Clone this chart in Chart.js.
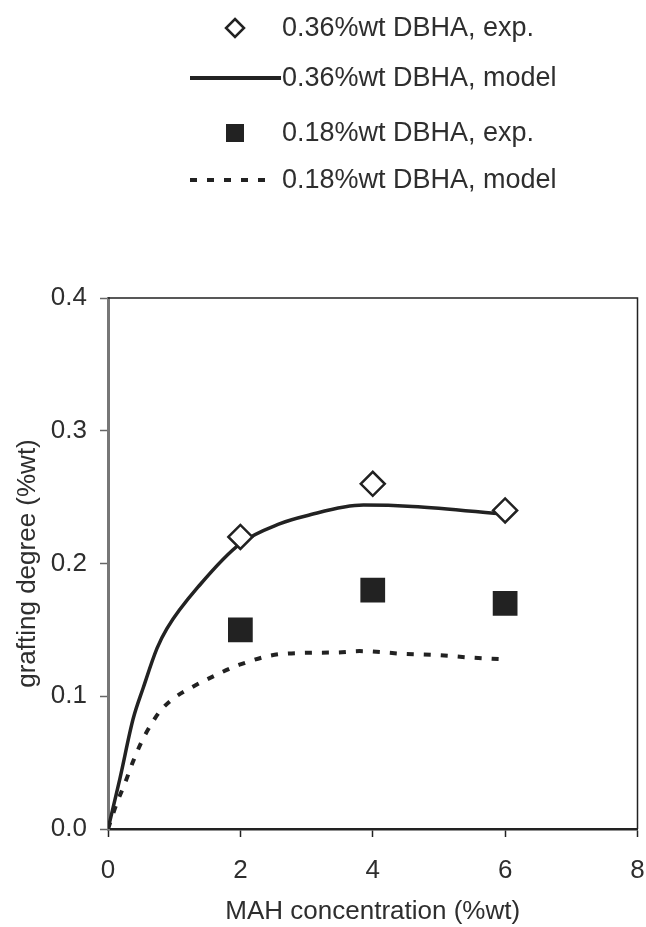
<!DOCTYPE html>
<html>
<head>
<meta charset="utf-8">
<script src="https://cdn.jsdelivr.net/npm/chart.js@4"></script>
<style>
  body { margin: 0; background: #fff; overflow: hidden; }
  canvas { display: block; }
</style>
</head>
<body>
<canvas id="myChart" width="655" height="927"></canvas>
<script>
const expX = [2, 4, 6]
const exp036 = [0.22, 0.26, 0.24]
const exp018 = [0.15, 0.18, 0.17]

const model036X = [0, 0.18, 0.38, 0.53, 0.74, 0.89, 1.39, 2.0, 2.6, 3.0, 3.86, 4.6, 6.03]
const model036Y = [0, 0.038, 0.083, 0.106, 0.136, 0.151, 0.184, 0.215, 0.230, 0.236, 0.244, 0.243, 0.237]

const model018X = [0, 0.13, 0.26, 0.38, 0.51, 0.63, 0.79, 0.98, 1.24, 1.59, 2.0, 2.65, 3.46, 3.8, 4.46, 4.98, 5.52, 5.93]
const model018Y = [0, 0.019, 0.035, 0.051, 0.066, 0.077, 0.089, 0.098, 0.106, 0.115, 0.124, 0.132, 0.133, 0.134, 0.132, 0.131, 0.129, 0.128]

const xTicks = [0, 2, 4, 6, 8]
const yTicks = [0.0, 0.1, 0.2, 0.3, 0.4]

const legendLabels = ['0.36%wt DBHA, exp.', '0.36%wt DBHA, model', '0.18%wt DBHA, exp.', '0.18%wt DBHA, model']

const ink = '#222'
const textInk = '#2e2e2e'
const fontFamily = '"Liberation Sans", Arial, sans-serif'

function pts(xs, ys) {
  return xs.map((x, i) => ({x: x, y: ys[i]}))
}

// legend + top/right frame
const extras = {
  id: 'extras',
  afterDraw(chart) {
    const ctx = chart.ctx
    const a = chart.chartArea
    ctx.save()
    ctx.strokeStyle = ink
    ctx.lineWidth = 1.5
    ctx.beginPath()
    ctx.moveTo(a.left, a.top)
    ctx.lineTo(a.right, a.top)
    ctx.lineTo(a.right, a.bottom)
    ctx.stroke()

    const rows = [28, 78, 133, 180]
    const ds = chart.data.datasets
    ctx.font = '27px ' + fontFamily
    ctx.fillStyle = textInk
    ctx.textBaseline = 'middle'
    legendLabels.forEach((t, i) => {
      ctx.fillText(t, 282, rows[i] + 1)
    })
    // markers
    ctx.fillStyle = '#fff'
    ctx.strokeStyle = ink
    ctx.lineWidth = 2.5
    ctx.beginPath()
    ctx.moveTo(235, rows[0] - 9); ctx.lineTo(244, rows[0]); ctx.lineTo(235, rows[0] + 9); ctx.lineTo(226, rows[0]); ctx.closePath()
    ctx.fill(); ctx.stroke()
    ctx.fillStyle = ink
    ctx.fillRect(226, rows[2] - 9, 18, 18)
    ctx.lineWidth = 4
    ctx.beginPath()
    ctx.moveTo(190, rows[1]); ctx.lineTo(281, rows[1]); ctx.stroke()
    ctx.setLineDash(ds[3].borderDash)
    ctx.beginPath()
    ctx.moveTo(190, rows[3]); ctx.lineTo(268, rows[3]); ctx.stroke()
    ctx.restore()
  }
}

new Chart(document.getElementById('myChart'), {
  type: 'scatter',
  data: {
    datasets: [{
      label: legendLabels[0],
      data: pts(expX, exp036),
      pointStyle: 'rectRot',
      pointRadius: 12,
      pointBorderWidth: 2.5,
      pointBackgroundColor: '#fff',
      pointBorderColor: ink,
      order: 0
    }, {
      label: legendLabels[1],
      data: pts(model036X, model036Y),
      showLine: true,
      cubicInterpolationMode: 'monotone',
      borderColor: ink,
      borderWidth: 3.5,
      pointRadius: 0,
      order: 1
    }, {
      label: legendLabels[2],
      data: pts(expX, exp018),
      pointStyle: 'rect',
      pointRadius: 17.5,
      pointBorderWidth: 0,
      pointBackgroundColor: ink,
      order: 0
    }, {
      label: legendLabels[3],
      data: pts(model018X, model018Y),
      showLine: true,
      cubicInterpolationMode: 'monotone',
      borderColor: ink,
      borderWidth: 4,
      borderDash: [7, 10],
      pointRadius: 0,
      order: 1
    }]
  },
  options: {
    responsive: false,
    animation: false,
    layout: { padding: { top: 298, right: 0, left: 0, bottom: 0 } },
    plugins: { legend: { display: false }, tooltip: { enabled: false } },
    scales: {
      x: {
        type: 'linear',
        min: 0,
        max: 8,
        afterBuildTicks: (s) => { s.ticks = xTicks.map(v => ({value: v})) },
        afterFit: (s) => { s.height = 98; s.paddingLeft = 0; s.paddingRight = 0 },
        grid: { drawOnChartArea: false, tickLength: 8, color: ink, tickWidth: 1.5 },
        border: { color: ink, width: 2.5 },
        ticks: { color: textInk, padding: 18, font: { size: 26, family: fontFamily } },
        title: {
          display: true,
          text: 'MAH concentration (%wt)',
          color: textInk,
          padding: { top: 0, bottom: 0 },
          font: { size: 26, family: fontFamily }
        }
      },
      y: {
        type: 'linear',
        min: 0,
        max: 0.4,
        afterBuildTicks: (s) => { s.ticks = yTicks.map(v => ({value: v})) },
        afterFit: (s) => { s.width = 108; s.paddingTop = 0; s.paddingBottom = 0 },
        grid: { drawOnChartArea: false, tickLength: 8, color: '#666', tickWidth: 1.5 },
        border: { color: '#777', width: 3 },
        ticks: { color: textInk, padding: 13, font: { size: 26, family: fontFamily }, callback: (v) => v.toFixed(1) },
        title: {
          display: true,
          text: 'grafting degree (%wt)',
          color: textInk,
          padding: { top: 12, bottom: 0 },
          font: { size: 26, family: fontFamily }
        }
      }
    }
  },
  plugins: [extras]
})
</script>
</body>
</html>
